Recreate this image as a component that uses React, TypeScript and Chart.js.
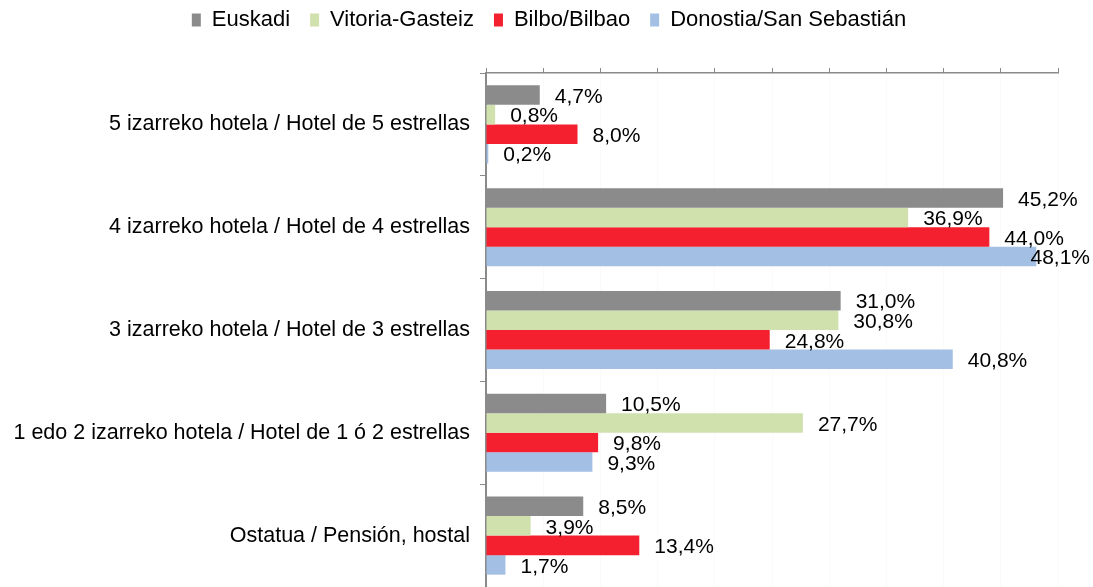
import React, { useEffect, useRef } from "react";
import { Chart, registerables } from "chart.js";

Chart.register(...registerables);

const categories = [
  "5 izarreko hotela / Hotel de 5 estrellas",
  "4 izarreko hotela / Hotel de 4 estrellas",
  "3 izarreko hotela / Hotel de 3 estrellas",
  "1 edo 2 izarreko hotela / Hotel de 1 ó 2 estrellas",
  "Ostatua / Pensión, hostal",
];

const seriesNames = ["Euskadi", "Vitoria-Gasteiz", "Bilbo/Bilbao", "Donostia/San Sebastián"];

const euskadi = [4.7, 45.2, 31.0, 10.5, 8.5];
const vitoria = [0.8, 36.9, 30.8, 27.7, 3.9];
const bilbao = [8.0, 44.0, 24.8, 9.8, 13.4];
const donostia = [0.2, 48.1, 40.8, 9.3, 1.7];

const colors = ["#8b8b8b", "#d0e1ad", "#f4202f", "#a3bfe4"];

const FONT = "'Liberation Sans', Arial, sans-serif";
const PAD_TOP = -11;
const AXIS_TOP = 73;

const dataLabels = {
  id: "dataLabels",
  afterDatasetsDraw(chart: any) {
    const ctx = chart.ctx;
    ctx.save();
    ctx.font = `21px ${FONT}`;
    ctx.fillStyle = "#000";
    ctx.textBaseline = "middle";
    ctx.textAlign = "left";
    chart.data.datasets.forEach((ds: any, i: number) => {
      const meta = chart.getDatasetMeta(i);
      meta.data.forEach((bar: any, j: number) => {
        const v = ds.data[j] as number;
        const txt = v.toFixed(1).replace(".", ",") + "%";
        const w = ctx.measureText(txt).width;
        let x = bar.x + 15;
        if (x + w > chart.width - 3) x = chart.width - 3 - w;
        ctx.fillText(txt, x, bar.y + 2);
      });
    });
    ctx.restore();
  },
};

const legendShift = {
  id: "legendShift",
  afterLayout(chart: any) {
    if (chart.legend) {
      chart.legend.left = 40;
    }
  },
};

export default function App() {
  const ref = useRef<HTMLCanvasElement>(null);
  useEffect(() => {
    const values = [euskadi, vitoria, bilbao, donostia];
    const chart = new Chart(ref.current!, {
      type: "bar",
      data: {
        labels: categories,
        datasets: seriesNames.map((name, i) => ({
          label: name,
          data: values[i],
          backgroundColor: colors[i],
          borderWidth: 0,
          categoryPercentage: 0.76,
          barPercentage: 1,
        })),
      },
      options: {
        indexAxis: "y",
        responsive: false,
        animation: false,
        layout: { padding: { left: 0, right: 35, top: PAD_TOP, bottom: 0 } },
        plugins: {
          legend: {
            display: true,
            position: "top",
            labels: {
              font: { family: FONT, size: 22 },
              color: "#000",
              boxWidth: 9,
              boxHeight: 13,
              padding: 20,
            },
          },
          tooltip: { enabled: false },
        },
        scales: {
          x: {
            position: "top",
            min: 0,
            max: 50,
            ticks: { display: false, stepSize: 5 },
            grid: {
              drawOnChartArea: true,
              color: "rgba(0,0,0,0.02)",
              tickColor: "#8a8a8a",
              tickLength: 5,
              lineWidth: 1,
            },
            border: { display: true, color: "#8a8a8a", width: 1.5 },
            afterFit(scale: any) {
              const lh = scale.chart.legend ? scale.chart.legend.height : 0;
              scale.height = AXIS_TOP - PAD_TOP - lh;
            },
          },
          y: {
            ticks: {
              font: { family: FONT, size: 21.5 },
              color: "#000",
              padding: 10,
            },
            grid: {
              drawOnChartArea: false,
              tickColor: "#8a8a8a",
              tickLength: 6,
            },
            border: { display: true, color: "#8a8a8a", width: 2 },
            afterFit(scale: any) {
              scale.width = 486;
              scale.paddingTop = 0;
              scale.paddingBottom = 0;
            },
          },
        },
      },
      plugins: [dataLabels, legendShift],
    });
    return () => chart.destroy();
  }, []);
  return (
    <canvas
      ref={ref}
      width={1093}
      height={587}
      style={{ position: "absolute", left: 0, top: 0, display: "block" }}
    />
  );
}
